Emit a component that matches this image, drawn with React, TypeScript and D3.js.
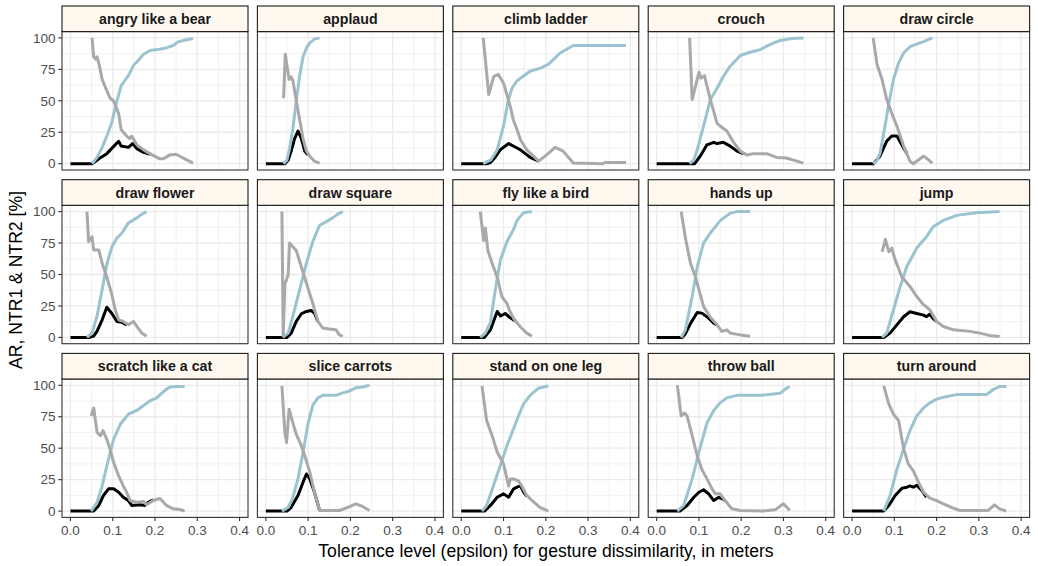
import React from 'react';
import * as d3 from 'd3';

type Pt = [number, number];

const gestures = [
  'angry like a bear', 'applaud', 'climb ladder', 'crouch', 'draw circle',
  'draw flower', 'draw square', 'fly like a bird', 'hands up', 'jump',
  'scratch like a cat', 'slice carrots', 'stand on one leg', 'throw ball', 'turn around',
];
const xTicks = [0, 0.1, 0.2, 0.3, 0.4];
const xMinor = [0.05, 0.15, 0.25, 0.35];
const yTicks = [0, 25, 50, 75, 100];
const yMinor = [12.5, 37.5, 62.5, 87.5];

// black = AR, blue = NTR1, gray = NTR2  (x = epsilon in m, y = %)
const angryAr: Pt[] = [[0,0],[0.051,0],[0.07,4.5],[0.086,8],[0.1,13],[0.114,17.8],[0.12,14],[0.137,13],[0.147,16],[0.157,12],[0.173,9],[0.188,7.5]];
const angryNtr1: Pt[] = [[0.051,0],[0.063,5],[0.075,13],[0.086,22],[0.098,33],[0.11,50],[0.12,62],[0.137,70],[0.149,78],[0.16,82],[0.173,87],[0.188,90],[0.21,91],[0.227,92],[0.243,94],[0.255,97],[0.275,98.5],[0.29,99.5]];
const angryNtr2: Pt[] = [[0.051,100],[0.055,85],[0.06,83],[0.063,85],[0.067,80],[0.075,67],[0.086,58],[0.094,52],[0.102,50],[0.114,40],[0.12,27],[0.133,22],[0.14,20],[0.145,22],[0.157,15],[0.173,11],[0.188,8],[0.21,4],[0.22,4],[0.235,7],[0.25,7.5],[0.275,3],[0.29,0.5]];

const applaudAr: Pt[] = [[0,0],[0.045,0],[0.053,3],[0.06,10],[0.068,20],[0.076,26],[0.084,20],[0.092,10],[0.1,7]];
const applaudNtr1: Pt[] = [[0.042,0],[0.05,3],[0.056,12],[0.064,28],[0.072,50],[0.08,70],[0.088,85],[0.096,92],[0.104,96],[0.115,99],[0.127,100]];
const applaudNtr2: Pt[] = [[0.042,52],[0.046,87],[0.055,67],[0.06,69],[0.064,66],[0.072,50],[0.08,35],[0.088,20],[0.096,10],[0.104,6],[0.115,2],[0.127,0.5]];

const climbAr: Pt[] = [[0,0],[0.06,0],[0.069,1],[0.08,5],[0.092,11],[0.112,16],[0.132,12.5],[0.14,11],[0.163,5],[0.183,2]];
const climbNtr1: Pt[] = [[0.052,0],[0.07,3],[0.085,11],[0.1,30],[0.111,50],[0.12,60],[0.13,65],[0.14,68],[0.163,73.5],[0.187,76],[0.206,79],[0.234,88],[0.265,94],[0.39,94]];
const climbNtr2: Pt[] = [[0.052,100],[0.065,55],[0.077,69.5],[0.088,71],[0.1,64],[0.116,45.6],[0.123,35],[0.132,27],[0.14,19],[0.155,11],[0.171,6],[0.183,2],[0.202,7],[0.222,13],[0.241,10],[0.265,0.5],[0.335,0],[0.34,1],[0.39,1]];

const crouchAr: Pt[] = [[0,0],[0.09,0],[0.103,6],[0.119,15],[0.135,17],[0.143,16],[0.158,17],[0.174,14],[0.19,10],[0.205,8]];
const crouchNtr1: Pt[] = [[0.078,0],[0.088,3],[0.096,11],[0.111,30],[0.127,51],[0.143,60],[0.158,69.5],[0.174,77.5],[0.198,86],[0.221,88.6],[0.245,90.7],[0.268,94.7],[0.292,98],[0.32,99.5],[0.347,100]];
const crouchNtr2: Pt[] = [[0.078,100],[0.084,51],[0.1,72.7],[0.105,68],[0.113,70],[0.127,51],[0.143,32],[0.15,30],[0.166,26],[0.182,17],[0.198,10],[0.213,7],[0.229,8],[0.26,8],[0.284,5],[0.307,4.5],[0.347,0.5]];

const circleAr: Pt[] = [[0,0],[0.051,0],[0.066,6],[0.082,18],[0.094,22],[0.106,22],[0.122,12.5],[0.13,8]];
const circleNtr1: Pt[] = [[0.05,0],[0.058,2],[0.066,8],[0.078,30],[0.086,46],[0.098,67],[0.11,80],[0.122,88],[0.137,93],[0.153,95],[0.169,97],[0.19,100]];
const circleNtr2: Pt[] = [[0.05,100],[0.059,79],[0.071,67],[0.082,51],[0.094,40],[0.106,30],[0.122,14],[0.137,2],[0.145,0],[0.157,3],[0.169,6],[0.176,4.5],[0.19,0.5]];

const flowerAr: Pt[] = [[0,0],[0.045,0],[0.055,1],[0.063,5],[0.075,14],[0.086,24],[0.098,19],[0.11,12.7],[0.122,12],[0.133,10]];
const flowerNtr1: Pt[] = [[0.039,0],[0.051,3.4],[0.063,17],[0.075,38],[0.086,58],[0.098,72],[0.11,79],[0.122,83],[0.137,91],[0.157,95],[0.169,98],[0.18,100]];
const flowerNtr2: Pt[] = [[0.039,100],[0.043,76],[0.051,80],[0.055,69.5],[0.067,69.5],[0.075,59],[0.086,48],[0.098,34],[0.106,22],[0.114,14],[0.125,12.7],[0.137,10],[0.149,12.7],[0.16,7.4],[0.169,3.4],[0.18,1]];

const squareAr: Pt[] = [[0,0],[0.05,0],[0.06,3.4],[0.072,12.7],[0.084,18.8],[0.096,20.6],[0.107,21.4],[0.115,19.3],[0.123,12.7]];
const squareNtr1: Pt[] = [[0.04,0],[0.053,3.4],[0.064,17],[0.08,38],[0.096,59],[0.111,76],[0.127,89],[0.143,92],[0.158,95],[0.17,98],[0.182,100]];
const squareNtr2: Pt[] = [[0.038,100],[0.041,1],[0.045,43],[0.049,46],[0.053,50],[0.056,75],[0.064,72],[0.072,69],[0.084,56],[0.096,43],[0.111,27],[0.123,12.7],[0.135,7.4],[0.15,6.6],[0.166,6],[0.174,2],[0.182,1]];

const flyAr: Pt[] = [[0,0],[0.055,0],[0.069,6],[0.085,20.6],[0.093,17],[0.104,19],[0.116,15.6],[0.128,13]];
const flyNtr1: Pt[] = [[0.045,0],[0.057,3.4],[0.069,12],[0.077,30],[0.085,47],[0.093,62],[0.108,76],[0.124,86],[0.132,93],[0.147,99],[0.167,100]];
const flyNtr2: Pt[] = [[0.045,100],[0.053,77],[0.057,87],[0.063,69],[0.073,59],[0.085,48],[0.096,32.5],[0.108,27],[0.116,20],[0.124,15],[0.139,8.7],[0.155,3.4],[0.167,1]];

const handsAr: Pt[] = [[0,0],[0.06,0],[0.068,3],[0.08,11],[0.096,19.8],[0.107,19.3],[0.123,15.3],[0.135,11.4],[0.143,10]];
const handsNtr1: Pt[] = [[0.058,0],[0.068,6],[0.084,32.5],[0.096,56],[0.111,75],[0.127,83],[0.151,93],[0.174,98.7],[0.19,100],[0.221,100]];
const handsNtr2: Pt[] = [[0.058,100],[0.068,79],[0.08,59],[0.092,48],[0.1,38],[0.111,24.6],[0.127,16],[0.143,10],[0.154,4.8],[0.166,6],[0.174,3.4],[0.198,2],[0.221,1]];

const jumpAr: Pt[] = [[0,0],[0.075,0],[0.09,3.4],[0.106,10],[0.122,16.4],[0.137,20.4],[0.153,19],[0.169,17.7],[0.176,16.4],[0.184,18.5],[0.192,15],[0.2,12.7]];
const jumpNtr1: Pt[] = [[0.071,0],[0.082,3.4],[0.098,22],[0.114,40.5],[0.129,56],[0.153,71],[0.176,80],[0.192,88],[0.216,93],[0.247,97],[0.294,99],[0.349,100]];
const jumpNtr2: Pt[] = [[0.071,68],[0.079,78],[0.087,68],[0.094,71],[0.102,61.6],[0.118,48],[0.137,40.5],[0.153,32.5],[0.169,26],[0.184,22],[0.2,12.7],[0.216,8.7],[0.24,6],[0.279,4.8],[0.302,3.4],[0.325,1.6],[0.349,0.8]];

const scratchAr: Pt[] = [[0,0],[0.055,0],[0.067,4.5],[0.078,12.4],[0.09,17.7],[0.102,17.7],[0.114,15],[0.125,11],[0.137,8.4],[0.145,4.5],[0.165,5],[0.176,4.5],[0.184,7],[0.196,9]];
const scratchNtr1: Pt[] = [[0.049,0],[0.063,7],[0.075,20],[0.086,36],[0.102,57],[0.118,69],[0.137,77],[0.157,80],[0.173,84],[0.188,87.6],[0.204,90],[0.22,95],[0.235,98.7],[0.255,99],[0.27,99]];
const scratchNtr2: Pt[] = [[0.049,75.7],[0.055,82],[0.063,62.5],[0.071,60],[0.077,64],[0.086,57],[0.094,49],[0.102,38.8],[0.114,28],[0.125,20],[0.133,15],[0.141,8.4],[0.157,7],[0.173,7.6],[0.18,5],[0.196,8.4],[0.212,10],[0.227,4.5],[0.243,1.8],[0.259,1.3],[0.27,0]];

const sliceAr: Pt[] = [[0,0],[0.05,0],[0.06,3],[0.076,12.4],[0.088,23],[0.096,29.5],[0.104,25.6],[0.115,15],[0.127,0.5]];
const sliceNtr1: Pt[] = [[0.038,0],[0.053,3],[0.064,11],[0.076,25.6],[0.088,46.7],[0.1,70],[0.111,84],[0.123,90],[0.135,92],[0.166,92],[0.182,94],[0.198,95.5],[0.213,98],[0.229,98.7],[0.245,100]];
const sliceNtr2: Pt[] = [[0.038,99.5],[0.045,62.5],[0.049,54.6],[0.055,81],[0.064,70],[0.072,61],[0.084,52],[0.092,44],[0.104,31],[0.115,15],[0.127,0.5],[0.174,0.5],[0.194,3],[0.213,5.8],[0.229,3.7],[0.245,0.5]];

const standAr: Pt[] = [[0,0],[0.055,0],[0.069,4.5],[0.085,11],[0.1,13.7],[0.112,11],[0.124,17.7],[0.132,19],[0.14,20],[0.148,15],[0.155,12]];
const standNtr1: Pt[] = [[0.049,0],[0.06,4.5],[0.076,20],[0.092,36],[0.108,52],[0.116,58.6],[0.131,72],[0.147,85],[0.163,92],[0.182,97.6],[0.206,99.5]];
const standNtr2: Pt[] = [[0.049,99.5],[0.06,72],[0.073,60],[0.085,47],[0.1,37.5],[0.112,20],[0.116,25.6],[0.124,25.6],[0.135,24],[0.143,20],[0.155,12.5],[0.163,9.8],[0.186,3],[0.206,0]];

const throwAr: Pt[] = [[0,0],[0.055,0],[0.072,4.5],[0.088,11],[0.1,15],[0.111,17],[0.123,13.7],[0.135,8.4],[0.147,11],[0.154,10],[0.162,8.4]];
const throwNtr1: Pt[] = [[0.049,0],[0.064,4.5],[0.084,25.6],[0.1,47],[0.119,70],[0.135,80],[0.15,86],[0.166,90],[0.19,92],[0.245,92],[0.292,93.6],[0.304,97],[0.315,99]];
const throwNtr2: Pt[] = [[0.049,100],[0.058,75.7],[0.066,78],[0.072,75.7],[0.084,60],[0.096,44],[0.107,33],[0.119,25.6],[0.131,17.7],[0.139,13.7],[0.15,13.7],[0.162,8.4],[0.178,1.8],[0.198,0.5],[0.252,0],[0.28,1],[0.3,5.8],[0.315,0.5]];

const turnAr: Pt[] = [[0,0],[0.075,0],[0.087,4.5],[0.102,12.4],[0.118,18.2],[0.13,19],[0.137,20],[0.145,19],[0.153,20.6],[0.165,16.4],[0.176,11]];
const turnNtr1: Pt[] = [[0.075,0],[0.09,12.4],[0.106,33],[0.122,49.5],[0.137,64],[0.153,75.7],[0.169,82],[0.184,86],[0.2,89],[0.216,90.5],[0.247,92.6],[0.318,92.6],[0.333,96.5],[0.349,99],[0.365,99]];
const turnNtr2: Pt[] = [[0.075,99.5],[0.087,85],[0.098,77],[0.11,72],[0.122,49.5],[0.133,37.5],[0.145,32],[0.157,23],[0.169,15],[0.184,10.3],[0.2,8.4],[0.216,5.8],[0.235,3],[0.255,0.5],[0.322,0.5],[0.337,5],[0.349,1.8],[0.365,0]];

const series = [
  [angryAr, angryNtr1, angryNtr2], [applaudAr, applaudNtr1, applaudNtr2],
  [climbAr, climbNtr1, climbNtr2], [crouchAr, crouchNtr1, crouchNtr2],
  [circleAr, circleNtr1, circleNtr2], [flowerAr, flowerNtr1, flowerNtr2],
  [squareAr, squareNtr1, squareNtr2], [flyAr, flyNtr1, flyNtr2],
  [handsAr, handsNtr1, handsNtr2], [jumpAr, jumpNtr1, jumpNtr2],
  [scratchAr, scratchNtr1, scratchNtr2], [sliceAr, sliceNtr1, sliceNtr2],
  [standAr, standNtr1, standNtr2], [throwAr, throwNtr1, throwNtr2],
  [turnAr, turnNtr1, turnNtr2],
];
const colors = ['#000000', '#9BC3D0', '#A9A9A9'];

const W = 1038, H = 566;
const left0 = 62, top0 = 6;
const panelW = 186, panelH = 138.4, stripH = 25.6;
const colStep = 195.4, rowStep = 173.7;
const font = 'Liberation Sans, Arial, Helvetica, sans-serif';

export default function App() {
  const x = d3.scaleLinear().domain([-0.02, 0.42]).range([0, panelW]);
  const y = d3.scaleLinear().domain([-5, 105]).range([panelH, 0]);
  const line = d3.line<Pt>().x(d => x(d[0])).y(d => y(d[1]));

  return (
    <svg width={W} height={H} style={{ position: 'absolute', left: 0, top: 0, background: '#fff' }} fontFamily={font}>
      <rect width={W} height={H} fill="#fff" />
      {gestures.map((g, i) => {
        const col = i % 5, row = Math.floor(i / 5);
        const px = left0 + col * colStep;
        const sy = top0 + row * rowStep;
        const py = sy + stripH;
        return (
          <g key={g}>
            <g transform={`translate(${px},${py})`}>
              <rect width={panelW} height={panelH} fill="#fff" />
              {xMinor.map(t => <line key={'xm' + t} x1={x(t)} x2={x(t)} y1={0} y2={panelH} stroke="#EBEBEB" strokeWidth={0.7} />)}
              {yMinor.map(t => <line key={'ym' + t} x1={0} x2={panelW} y1={y(t)} y2={y(t)} stroke="#EBEBEB" strokeWidth={0.7} />)}
              {xTicks.map(t => <line key={'x' + t} x1={x(t)} x2={x(t)} y1={0} y2={panelH} stroke="#EBEBEB" strokeWidth={1.3} />)}
              {yTicks.map(t => <line key={'y' + t} x1={0} x2={panelW} y1={y(t)} y2={y(t)} stroke="#EBEBEB" strokeWidth={1.3} />)}
              {series[i].map((s, k) => (
                <path key={k} d={line(s) || ''} fill="none" stroke={colors[k]} strokeWidth={3} strokeLinejoin="round" strokeLinecap="butt" />
              ))}
              <rect width={panelW} height={panelH} fill="none" stroke="#333333" strokeWidth={1.1} />
              {col === 0 && yTicks.map(t => (
                <g key={'yt' + t}>
                  <line x1={-3.7} x2={0} y1={y(t)} y2={y(t)} stroke="#333333" strokeWidth={1.1} />
                  <text x={-6.5} y={y(t)} dy="0.35em" textAnchor="end" fontSize={13.5} fill="#4D4D4D">{t}</text>
                </g>
              ))}
              {row === 2 && xTicks.map(t => (
                <g key={'xt' + t}>
                  <line x1={x(t)} x2={x(t)} y1={panelH} y2={panelH + 3.7} stroke="#333333" strokeWidth={1.1} />
                  <text x={x(t)} y={panelH + 17.5} textAnchor="middle" fontSize={13.5} fill="#4D4D4D">{d3.format('.1f')(t)}</text>
                </g>
              ))}
            </g>
            <rect x={px} y={sy} width={panelW} height={stripH} fill="#FFF8EF" stroke="#1A1A1A" strokeWidth={1.1} />
            <text x={px + panelW / 2} y={sy + stripH / 2} dy="0.36em" textAnchor="middle" fontSize={14.2} fontWeight="bold" fill="#1A1A1A">{g}</text>
          </g>
        );
      })}
      <text x={546} y={557} textAnchor="middle" fontSize={17.6} fill="#000">Tolerance level (epsilon) for gesture dissimilarity, in meters</text>
      <text transform="translate(22,280) rotate(-90)" textAnchor="middle" fontSize={17.6} fill="#000">AR, NTR1 &amp; NTR2 [%]</text>
    </svg>
  );
}
